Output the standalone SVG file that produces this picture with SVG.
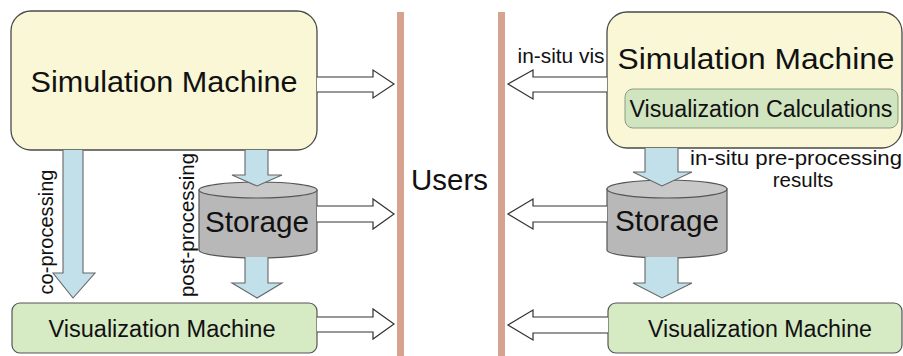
<svg xmlns="http://www.w3.org/2000/svg" width="903" height="356" viewBox="0 0 903 356">
<style>
text{font-family:"Liberation Sans",Arial,sans-serif;fill:#111}
.sim{fill:#f9f7d6;stroke:#4a4a4a;stroke-width:1.3}
.vm{fill:#d6eac4;stroke:#555;stroke-width:1.2}
.vc{fill:#cfe4bf;stroke:#8c9c84;stroke-width:1}
.cyl{fill:#b8b8b8;stroke:#555;stroke-width:1.2}
.cyltop{fill:#c8c8c8;stroke:#555;stroke-width:1.2}
.blue{fill:#c2e0ea;stroke:#666;stroke-width:1.1}
.ua{fill:#fff;stroke:#333;stroke-width:1.2}
.bar{fill:#d5a38f}
.big{font-size:30px}
.mid{font-size:23.5px}
.lab{font-size:20.5px}
</style>
<rect width="903" height="356" fill="#fff"/>
<g id="bars">
<rect class="bar" x="397" y="12" width="7" height="344"/>
<rect class="bar" x="498" y="12" width="7" height="344"/>
</g>
<g id="users"><text x="449.5" y="190" class="big" text-anchor="middle" textLength="77" lengthAdjust="spacingAndGlyphs">Users</text></g>
<g id="sim-left">
<rect class="sim" x="11" y="11" width="306" height="139" rx="20"/>
<text x="164" y="92" class="big" text-anchor="middle" textLength="267" lengthAdjust="spacingAndGlyphs">Simulation Machine</text>
</g>
<g id="storage-left">
<path class="cyl" d="M199,190 L199,250 A59,8 0 0 0 317,250 L317,190 Z"/>
<ellipse class="cyltop" cx="258" cy="190" rx="59" ry="8"/>
<text x="257" y="232" class="big" text-anchor="middle" textLength="104" lengthAdjust="spacingAndGlyphs">Storage</text>
</g>
<g id="vm-left">
<rect class="vm" x="12" y="303" width="305" height="50" rx="8"/>
<text x="162" y="337" class="mid" text-anchor="middle" textLength="227" lengthAdjust="spacingAndGlyphs">Visualization Machine</text>
</g>
<g id="sim-right">
<rect class="sim" x="607" y="12" width="295" height="136" rx="20"/>
<text x="756" y="69" class="big" text-anchor="middle" textLength="277" lengthAdjust="spacingAndGlyphs">Simulation Machine</text>
<rect class="vc" x="625" y="89" width="273" height="39" rx="8"/>
<text x="761" y="117" class="mid" text-anchor="middle" textLength="263" lengthAdjust="spacingAndGlyphs">Visualization Calculations</text>
</g>
<g id="storage-right">
<path class="cyl" d="M607,189 L607,250 A60,8 0 0 0 727,250 L727,189 Z"/>
<ellipse class="cyltop" cx="667" cy="189" rx="60" ry="9"/>
<text x="667" y="231" class="big" text-anchor="middle" textLength="104" lengthAdjust="spacingAndGlyphs">Storage</text>
</g>
<g id="vm-right">
<rect class="vm" x="608" y="303" width="294" height="50" rx="8"/>
<text x="760" y="337" class="mid" text-anchor="middle" textLength="224" lengthAdjust="spacingAndGlyphs">Visualization Machine</text>
</g>
<g id="connectors">
<path class="ua" d="M317,77 H373 V70 L394,84 L373,98 V92 H317"/>
<path class="ua" d="M317,206 H373 V199 L394,214 L373,229 V222 H317"/>
<path class="ua" d="M317,317 H373 V309 L394,324 L373,339 V332 H317"/>
<path class="ua" d="M607,77 H533 V70 L508,84 L533,99 V92 H607"/>
<path class="ua" d="M607,206 H533 V199 L508,214 L533,229 V222 H607"/>
<path class="ua" d="M608,317 H533 V310 L508,325 L533,340 V333 H608"/>
<path class="blue" d="M63,150 V273 H53 L73,298 L95,273 H83 V150"/>
<path class="blue" d="M245,150 V175 H232 L257,186 L282,175 H268 V150"/>
<path class="blue" d="M245,257 V283 H232 L257,298 L282,283 H268 V257"/>
<path class="blue" d="M645,148 V172 H633 L662,186 L692,172 H678 V148"/>
<path class="blue" d="M645,257 V283 H633 L662,298 L692,283 H678 V257"/>
<text class="lab" transform="translate(53,232) rotate(-90)" text-anchor="middle" textLength="125" lengthAdjust="spacingAndGlyphs">co-processing</text>
<text class="lab" transform="translate(194,225) rotate(-90)" text-anchor="middle" textLength="144" lengthAdjust="spacingAndGlyphs">post-processing</text>
<text class="lab" x="561" y="63" text-anchor="middle" textLength="87" lengthAdjust="spacingAndGlyphs">in-situ vis</text>
<text class="lab" x="796" y="165" text-anchor="middle" textLength="212" lengthAdjust="spacingAndGlyphs">in-situ pre-processing</text>
<text class="lab" x="803" y="187" text-anchor="middle">results</text>
</g>
</svg>
